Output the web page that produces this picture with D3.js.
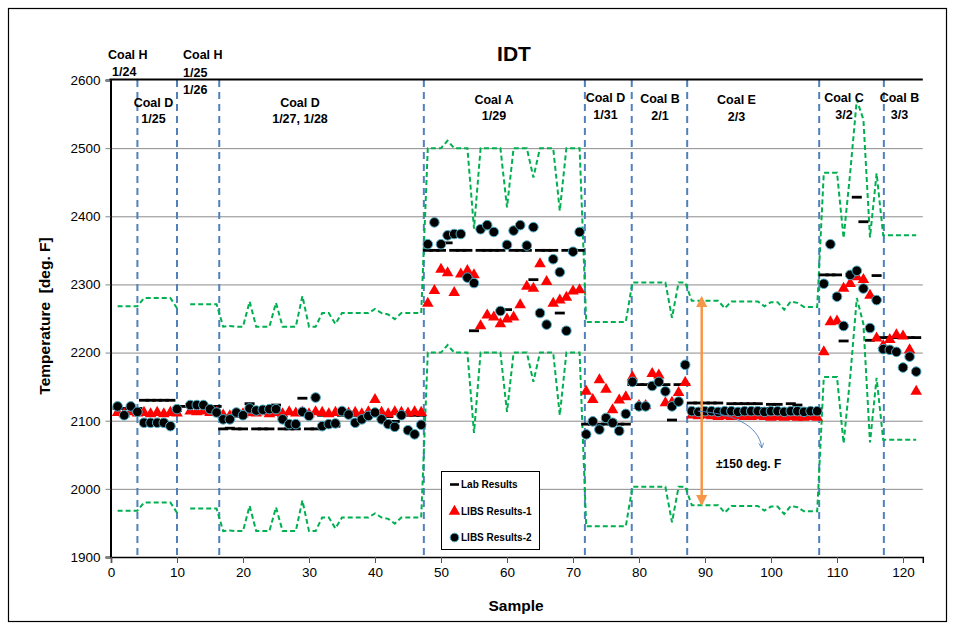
<!DOCTYPE html>
<html><head><meta charset="utf-8">
<script src="https://cdn.jsdelivr.net/npm/d3@7"></script>
<style>body{margin:0;background:#fff}svg{display:block}</style>
</head><body>
<svg id="c" width="955" height="629"></svg>
<script>
const sampleNumbers = [1,2,3,4,5,6,7,8,9,10,11,12,13,14,15,16,17,18,19,20,21,22,23,24,25,26,27,28,29,30,31,32,33,34,35,36,37,38,39,40,41,42,43,44,45,46,47,48,49,50,51,52,53,54,55,56,57,58,59,60,61,62,63,64,65,66,67,68,69,70,71,72,73,74,75,76,77,78,79,80,81,82,83,84,85,86,87,88,89,90,91,92,93,94,95,96,97,98,99,100,101,102,103,104,105,106,107,108,109,110,111,112,113,114,115,116,117,118,119,120,121,122];

const labResults = [2118,2118,2118,2118,2130,2130,2130,2130,2130,2115,2121,2121,2121,2121,2121,2121,
2088,2089,2088,2088,2125,2088,2088,2088,2123,2088,2088,2088,2133,2088,2088,2108,2108,2092,2108,2108,2108,2108,2108,2114,2108,2106,2099,2108,2108,2108,2108,
2350,2350,2350,2361,2350,2350,2350,2232,2350,2350,2350,2350,2263,2350,2350,2350,2307,2350,2350,2350,2258,2350,2350,2350,
2095,2095,2095,2095,2095,2095,2095,
2153,2153,2153,2153,2153,2153,2101,2153,2153,
2126,2126,2126,2126,2126,2115,2125,2125,2125,2125,2125,2118,2124,2124,2113,2125,2123,2117,2117,2117,
2314,2314,2314,2217,2314,2428,2392,2218,2313,2222,2222,2222,2222,2222,2222];

const libsResults1 = [2112,2110,2113,2111,2112,2110,2112,2110,2112,2111,null,2114,2113,2114,2112,2112,
2108,2107,2109,2110,2112,2111,2113,2110,2112,2110,2113,2111,2112,2110,2113,2112,2110,2112,2113,2111,2112,2110,2113,2131,2112,2110,2113,2112,2111,2113,2112,
2272,2291,2322,2317,2288,2315,2320,2314,2239,2255,2252,2242,2249,2252,2270,2297,2294,2330,2304,2272,2277,2281,2290,2292,
2143,2131,2160,2146,2116,2130,2135,
2164,2122,2122,2169,2167,2126,2127,2141,2156,
2108,2107,2108,2107,2106,2107,2106,2107,2106,2106,2107,2106,2105,2106,2105,2106,2105,2105,2106,2105,
2201,2245,2246,2294,2301,2311,2307,2284,2221,2210,2219,2226,2224,2204,2143];

const libsResults2 = [2121,2108,2121,2113,2097,2097,2097,2097,2092,2117,null,2123,2123,2123,2117,2112,
2102,2102,2112,2108,2118,2115,2116,2117,2117,2102,2095,2095,2113,2107,2134,2092,2095,2096,2114,2109,2097,2102,2107,2112,2102,2095,2091,2108,2086,2080,2094,
2359,2391,2359,2372,2374,2374,2310,2302,2381,2387,2377,2261,2358,2379,2387,2357,2384,2258,2241,2337,2318,2232,2348,2377,
2080,2099,2087,2104,2097,2085,2110,
2157,2121,2121,2151,2157,2143,2121,2128,2182,
2114,2113,2114,2114,2113,2114,2114,2113,2114,2114,2114,2113,2114,2114,2113,2114,2114,2113,2114,2114,
2301,2359,2282,2239,2314,2320,2294,2236,2277,2205,2204,2201,2178,2194,2172];

const upperBand = [2268,2268,2268,2268,2280,2280,2280,2280,2280,2265,null,2271,2271,2271,2271,2271,
2238,2239,2238,2238,2275,2238,2238,2238,2273,2238,2238,2238,2283,2238,2238,2258,2258,2242,2258,2258,2258,2258,2258,2264,2258,2256,2249,2258,2258,2258,2258,
2500,2500,2500,2511,2500,2500,2500,2382,2500,2500,2500,2500,2413,2500,2500,2500,2457,2500,2500,2500,2408,2500,2500,2500,
2245,2245,2245,2245,2245,2245,2245,
2303,2303,2303,2303,2303,2303,2251,2303,2303,
2276,2276,2276,2276,2276,2265,2275,2275,2275,2275,2275,2268,2274,2274,2263,2275,2273,2267,2267,2267,
2464,2464,2464,2368,2464,2571,2542,2369,2463,2372,2372,2372,2372,2372,2372];

const lowerBand = [1968,1968,1968,1968,1980,1980,1980,1980,1980,1965,null,1971,1971,1971,1971,1971,
1938,1939,1938,1938,1975,1938,1938,1938,1973,1938,1938,1938,1983,1938,1938,1958,1958,1942,1958,1958,1958,1958,1958,1964,1958,1956,1949,1958,1958,1958,1958,
2200,2200,2200,2211,2200,2200,2200,2082,2200,2200,2200,2200,2113,2200,2200,2200,2157,2200,2200,2200,2108,2200,2200,2200,
1945,1945,1945,1945,1945,1945,1945,
2003,2003,2003,2003,2003,2003,1951,2003,2003,
1976,1976,1976,1976,1976,1965,1975,1975,1975,1975,1975,1968,1974,1974,1963,1975,1973,1967,1967,1967,
2164,2164,2164,2067,2164,2280,2242,2068,2163,2072,2072,2072,2072,2072,2072];

const xTicks = [0,10,20,30,40,50,60,70,80,90,100,110,120];
const yTicks = [1900,2000,2100,2200,2300,2400,2500,2600];
const regionBoundaries = [4,10,16.4,47.4,71.8,78.9,87.3,107.3,117.1];
const regionLabels = [
  ["Coal H","1/24"],
  ["Coal D","1/25"],
  ["Coal H","1/25","1/26"],
  ["Coal D","1/27, 1/28"],
  ["Coal A","1/29"],
  ["Coal D","1/31"],
  ["Coal B","2/1"],
  ["Coal E","2/3"],
  ["Coal C","3/2"],
  ["Coal B","3/3"]
];
const legendLabels = ["Lab Results","LIBS Results-1","LIBS Results-2"];
const rangeArrow = [1978, 2280];
const rangeNote = "±150 deg. F";

// ---------- drawing ----------
const svg = d3.select("#c");
const FONT = "'Liberation Sans', Arial, sans-serif";
const x = d3.scaleLinear().domain([0,123]).range([111,922.8]);
const y = d3.scaleLinear().domain([1900,2600]).range([557,80]);

const rows = sampleNumbers.map((s,i)=>({s, lab:labResults[i], l1:libsResults1[i], l2:libsResults2[i], up:upperBand[i], lo:lowerBand[i]}));

// outer frame
svg.append("rect").attr("x",8.5).attr("y",8.5).attr("width",938).attr("height",613)
  .attr("fill","#fff").attr("stroke","#000").attr("stroke-width",1.2);

// gridlines
svg.append("g").selectAll("line").data(yTicks.filter(d=>d>1900 && d<2600)).join("line")
  .attr("x1",x(0)).attr("x2",x(123)).attr("y1",d=>y(d)+0.5).attr("y2",d=>y(d)+0.5)
  .attr("stroke","#8c8c8c").attr("stroke-width",1);

// region boundaries
svg.append("g").selectAll("line").data(regionBoundaries).join("line")
  .attr("x1",d=>x(d)).attr("x2",d=>x(d)).attr("y1",y(2600)).attr("y2",y(1900))
  .attr("stroke","#4f81bd").attr("stroke-width",2).attr("stroke-dasharray","7,5");

// bands
const bandLine = key => d3.line().defined(d=>d[key]!=null).x(d=>x(d.s)).y(d=>y(d[key]));
["up","lo"].forEach(k=>{
  svg.append("path").datum(rows).attr("d",bandLine(k)).attr("fill","none")
    .attr("stroke","#00b050").attr("stroke-width",2).attr("stroke-dasharray","5,3");
});

// axes
const ax = svg.append("g").attr("transform",`translate(${x(0)-0.5},0)`)
  .call(d3.axisLeft(y).tickValues(yTicks).tickSize(5).tickPadding(5).tickFormat(d3.format("d")));
ax.select(".domain").attr("stroke","#000").attr("stroke-width",2);
ax.selectAll(".tick line").attr("stroke","#868686");
ax.selectAll("text").attr("font-family",FONT).attr("font-size",13.5).attr("fill","#000");

const bx = svg.append("g").attr("transform",`translate(0,${y(1900)})`)
  .call(d3.axisBottom(x).tickValues(xTicks).tickSize(6).tickPadding(4));
bx.select(".domain").attr("stroke","#000").attr("stroke-width",1.5);
bx.selectAll(".tick line").attr("stroke","#555");
bx.selectAll("text").attr("font-family",FONT).attr("font-size",13.5).attr("fill","#000");

// top border of plot
svg.append("line").attr("x1",x(0)-1.5).attr("x2",x(123)).attr("y1",y(2600)-0.5).attr("y2",y(2600)-0.5)
  .attr("stroke","#000").attr("stroke-width",2);

// lab dashes
svg.append("g").selectAll("line").data(rows.filter(d=>d.lab!=null)).join("line")
  .attr("x1",d=>x(d.s)-5).attr("x2",d=>x(d.s)+5).attr("y1",d=>y(d.lab)).attr("y2",d=>y(d.lab))
  .attr("stroke","#000").attr("stroke-width",2.8);

// LIBS-1 triangles
const tri = d3.symbol(d3.symbolTriangle).size(58);
svg.append("g").selectAll("path").data(rows.filter(d=>d.l1!=null)).join("path")
  .attr("d",tri).attr("transform",d=>`translate(${x(d.s)},${y(d.l1)})`).attr("fill","#ff0000");

// LIBS-2 circles
svg.append("g").selectAll("circle").data(rows.filter(d=>d.l2!=null)).join("circle")
  .attr("cx",d=>x(d.s)).attr("cy",d=>y(d.l2)).attr("r",4.8)
  .attr("fill","#000").attr("stroke","#4bacc6").attr("stroke-width",1);

// orange double arrow
const defs = svg.append("defs");
defs.append("marker").attr("id","oa").attr("viewBox","0 0 10 10").attr("refX",8).attr("refY",5)
  .attr("markerWidth",4.5).attr("markerHeight",4.5).attr("orient","auto-start-reverse")
  .append("path").attr("d","M0,0 L10,5 L0,10 z").attr("fill","#f79646");
svg.append("line").attr("x1",x(89.5)).attr("x2",x(89.5)).attr("y1",y(rangeArrow[0])).attr("y2",y(rangeArrow[1]))
  .attr("stroke","#f79646").attr("stroke-width",2.5)
  .attr("marker-start","url(#oa)").attr("marker-end","url(#oa)");

// curved blue pointer
defs.append("marker").attr("id","ba").attr("viewBox","0 0 10 10").attr("refX",9).attr("refY",5)
  .attr("markerWidth",7).attr("markerHeight",7).attr("orient","auto")
  .append("path").attr("d","M1,1 L9,5 L1,9").attr("fill","none").attr("stroke","#4f81bd").attr("stroke-width",1.2);
svg.append("path")
  .attr("d",`M${x(88.9)},${y(2114)} C${x(93.8)},${y(2111)} ${x(98.2)},${y(2095)} ${x(98.6)},${y(2060)}`)
  .attr("fill","none").attr("stroke","#4f81bd").attr("stroke-width",0.9).attr("marker-end","url(#ba)");
svg.append("text").attr("x",716).attr("y",468).text(rangeNote)
  .attr("font-family",FONT).attr("font-size",12).attr("font-weight","bold");

// region labels
const labelPos = [[108,59,"start"],[153.5,106.5,"middle"],[183,58.5,"start"],[300,106.5,"middle"],[494,103.5,"middle"],
  [605.5,102,"middle"],[660,103,"middle"],[736.5,103.5,"middle"],[844,101.5,"middle"],[899.5,101.5,"middle"]];
const lineGaps = [[0,17],[0,16.5],[0,18,35],[0,16.5],[0,16.5],[0,17],[0,17],[0,17],[0,17],[0,17]];
regionLabels.forEach((lines,i)=>{
  const [lx,ly,anc] = labelPos[i];
  const t = svg.append("text").attr("font-family",FONT).attr("font-size",12.5).attr("font-weight","bold")
    .attr("text-anchor",anc);
  lines.forEach((ln,j)=>{
    let xx = lx;
    if (i===0 && j===1) xx = 112;
    t.append("tspan").attr("x",xx).attr("y",ly+lineGaps[i][j]).text(ln);
  });
});

// title
svg.append("text").attr("x",514).attr("y",61).attr("text-anchor","middle").text("IDT")
  .attr("font-family",FONT).attr("font-size",21).attr("font-weight","bold");

// axis titles
svg.append("text").attr("transform","translate(50,316) rotate(-90)").attr("text-anchor","middle")
  .text("Temperature  [deg. F]").attr("font-family",FONT).attr("font-size",15.5).attr("font-weight","bold")
  .style("white-space","pre");
svg.append("text").attr("x",516).attr("y",611).attr("text-anchor","middle").text("Sample")
  .attr("font-family",FONT).attr("font-size",15.5).attr("font-weight","bold");

// legend
const lg = svg.append("g");
lg.append("rect").attr("x",441.5).attr("y",471.5).attr("width",98).attr("height",78)
  .attr("fill","#fff").attr("stroke","#000").attr("stroke-width",1);
const ly0 = [484.5,511.5,537.5];
lg.append("line").attr("x1",450).attr("x2",459).attr("y1",ly0[0]).attr("y2",ly0[0]).attr("stroke","#000").attr("stroke-width",2.6);
lg.append("path").attr("d",tri).attr("transform",`translate(454.5,${ly0[1]})`).attr("fill","#ff0000");
lg.append("circle").attr("cx",454.5).attr("cy",ly0[2]).attr("r",4.3).attr("fill","#000").attr("stroke","#4bacc6");
legendLabels.forEach((t,i)=>{
  lg.append("text").attr("x",461).attr("y",ly0[i]+3.5).text(t)
    .attr("font-family",FONT).attr("font-size",10).attr("font-weight","bold");
});
</script>
</body></html>
